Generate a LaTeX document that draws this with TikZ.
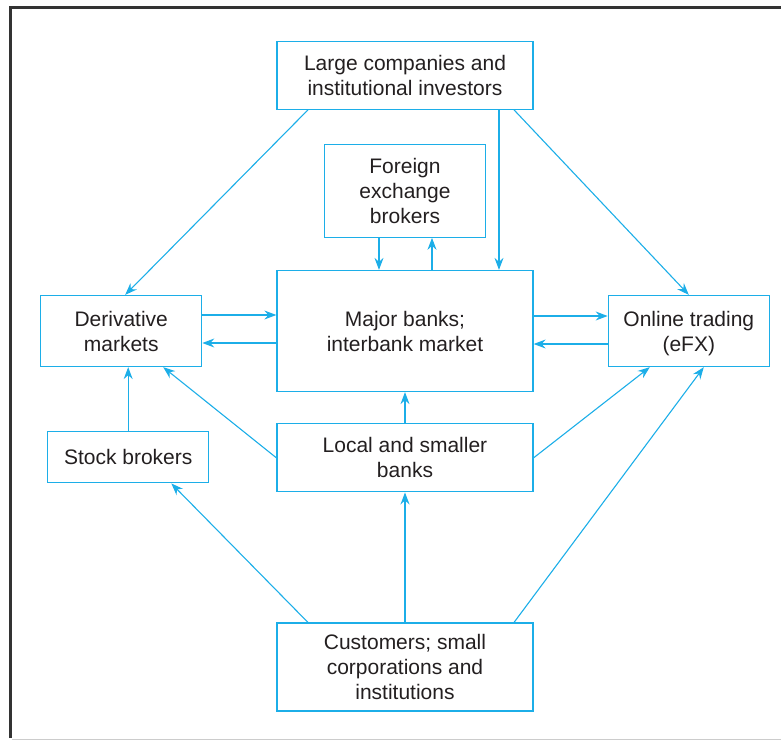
\documentclass[tikz,border=0pt]{standalone}
\usepackage{fontspec}
\setmainfont{Liberation Sans}
\usetikzlibrary{arrows.meta, positioning}
\definecolor{fxblue}{RGB}{28,174,232}
\definecolor{fxtext}{RGB}{35,31,32}
\tikzstyle{block} = [rectangle, minimum width=256pt, text centered, align=center, draw=fxblue, line width=1.3pt, text=fxtext, font=\fontsize{21}{25}\selectfont]
\tikzstyle{side} = [block, minimum width=161pt]
\tikzstyle{arrow} = [draw=fxblue, line width=1.1pt, -{Stealth[length=12pt, width=9pt, inset=4pt]}]

\begin{document}
\begin{tikzpicture}
\useasboundingbox (-405pt,-409pt) rectangle (376pt,331pt);

% Frame
\draw [line width=3pt, draw=black!80] (-394.5pt,-407pt) -- (-394.5pt,323.5pt) -- (376pt,323.5pt);
\draw [line width=1pt, draw=black!20] (-393pt,-408.5pt) -- (376pt,-408.5pt);

% Centre column
\node (major) [block, minimum height=121pt] {Major banks;\\interbank market};
\node (fx) [side, minimum height=93pt, above=32pt of major] {Foreign\\exchange\\brokers};
\node (large) [block, minimum height=68pt, above=160pt of major] {Large companies and\\institutional investors};
\node (local) [block, minimum height=68pt, below=31pt of major] {Local and smaller\\banks};
\node (cust) [block, minimum height=88pt, below=130pt of local] {Customers; small\\corporations and\\institutions};

% Sides
\node (deriv) [side, minimum height=71pt, left=74pt of major] {Derivative\\markets};
\node (online) [side, minimum height=71pt, right=74pt of major] {Online trading\\\raisebox{0pt}[\height][0pt]{(eFX)}};
\node (stock) [side, minimum height=51pt, below=64pt of deriv, xshift=7pt] {Stock brokers};

% From the top
\draw [arrow] ([xshift=-97pt]large.south) -- ([xshift=4pt]deriv.north);
\draw [arrow] ([xshift=94pt]large.south) -- ([xshift=94pt]major.north);
\draw [arrow] ([xshift=109pt]large.south) -- (online.north);
\draw [arrow] ([xshift=-26pt]fx.south) -- ([xshift=-26pt]major.north);
\draw [arrow] ([xshift=27pt]major.north) -- ([xshift=27pt]fx.south);

% Left and right of the major banks
\draw [arrow] ([yshift=16pt]deriv.east) -- ([yshift=16pt]major.west);
\draw [arrow] ([yshift=-12pt]major.west) -- ([yshift=-12pt]deriv.east);
\draw [arrow] ([yshift=15pt]major.east) -- ([yshift=15pt]online.west);
\draw [arrow] ([yshift=-13pt]online.west) -- ([yshift=-13pt]major.east);

% Local banks and stock brokers
\draw [arrow] (local.north) -- (major.south);
\draw [arrow] (stock.north) -- (stock.north |- deriv.south);
\draw [arrow] (local.west) -- ([xshift=42pt]deriv.south);
\draw [arrow] (local.east) -- ([xshift=-39pt]online.south);

% From the customers
\draw [arrow] ([xshift=-97pt]cust.north) -- ([xshift=-38pt]stock.south east);
\draw [arrow] (cust.north) -- (local.south);
\draw [arrow] ([xshift=109pt]cust.north) -- ([xshift=15pt]online.south);

\end{tikzpicture}
\end{document}
